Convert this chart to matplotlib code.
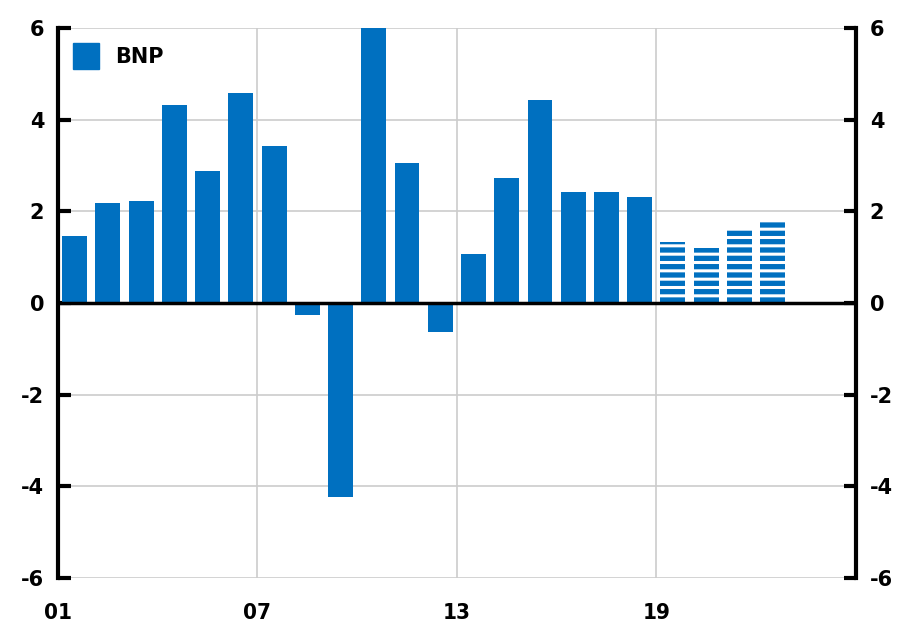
import matplotlib.pyplot as plt
import matplotlib.patches as mpatches
import numpy as np

# data: annual GDP growth (BNP), 2019-2022 are forecasts
years = list(range(2001, 2023))
bnp = [1.46, 2.18, 2.23, 4.32, 2.88, 4.58, 3.43, -0.26, -4.23, 6.0, 3.05,
       -0.63, 1.07, 2.73, 4.43, 2.42, 2.42, 2.31, 1.33, 1.20, 1.61, 1.77]
forecast_from = 2019
xtick_labels = ['01', '07', '13', '19']

blue = '#0070C0'
plt.rcParams['font.family'] = 'DejaVu Sans'
plt.rcParams['axes.unicode_minus'] = False
plt.rcParams['hatch.linewidth'] = 2.2

fig = plt.figure(figsize=(8.97, 6.29), dpi=100)
ax = fig.add_axes([0.0647, 0.081, 0.8893, 0.8745])

x = np.arange(len(years)) + 0.5
for xi, yr, v in zip(x, years, bnp):
    if yr < forecast_from:
        ax.bar(xi, v, width=0.75, color=blue, zorder=3)
    else:
        ax.bar(xi, v, width=0.75, facecolor=blue, edgecolor='white',
               linewidth=0, hatch='--', zorder=3)

ax.set_xlim(0, 24)
ax.set_ylim(-6, 6)
ax.axhline(0, color='black', lw=2.5, zorder=4)

# grid
ax.set_yticks(np.arange(-6, 7, 2))
ax.set_xticks([0, 6, 12, 18])
ax.set_xticklabels(xtick_labels)
ax.grid(True, color='#cccccc', lw=1.2, zorder=0)

for s in ['top', 'bottom']:
    ax.spines[s].set_visible(False)
for s in ['left', 'right']:
    ax.spines[s].set_linewidth(3)
    ax.spines[s].set_zorder(5)

ax.tick_params(axis='y', direction='in', length=9, width=3,
               left=True, right=True, labelleft=True, labelright=True,
               labelsize=15, pad=10)
ax.tick_params(axis='x', length=0, labelsize=16, pad=18)
for lab in ax.get_yticklabels() + ax.get_xticklabels():
    lab.set_fontweight('bold')
for lab in ax.get_xticklabels():
    lab.set_fontstretch('condensed')

handle = mpatches.Patch(color=blue, label='BNP')
leg = ax.legend(handles=[handle], loc='upper left', frameon=False,
                fontsize=15, handlelength=1.25, handleheight=1.6,
                handletextpad=0.8, bbox_to_anchor=(0.0, 1.0),
                borderaxespad=0.3)
for t in leg.get_texts():
    t.set_fontweight('bold')

fig.savefig('out.png', dpi=100)
